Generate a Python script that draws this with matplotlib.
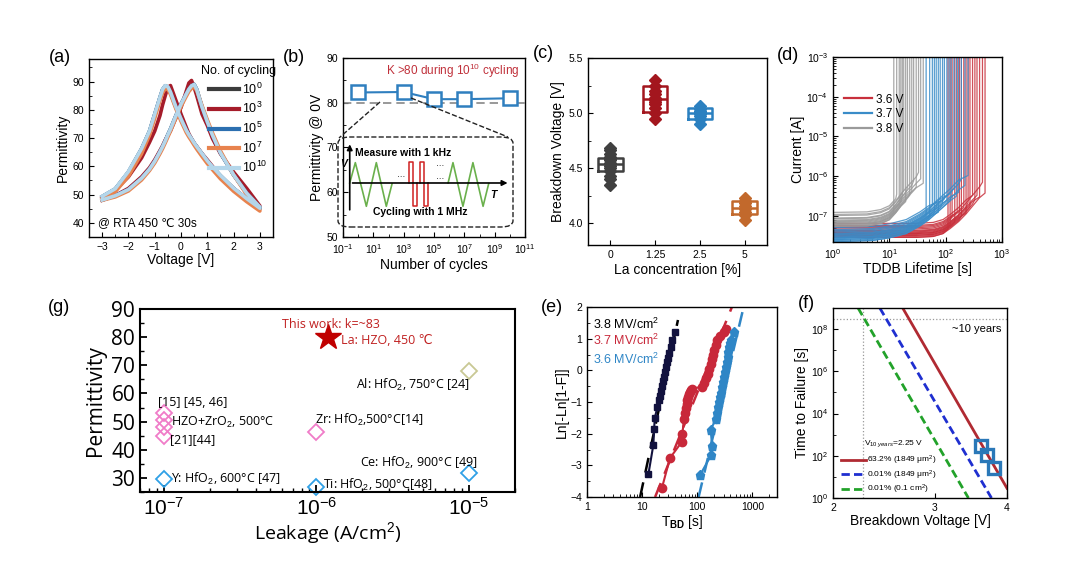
import numpy as np
import matplotlib
matplotlib.use("Agg")
import matplotlib.pyplot as plt
from matplotlib.patches import FancyBboxPatch
from matplotlib.lines import Line2D
from matplotlib.ticker import FixedLocator, FuncFormatter, MultipleLocator, NullLocator, NullFormatter

plt.rcParams["font.family"] = ["Liberation Sans", "DejaVu Sans"]
plt.rcParams["mathtext.fontset"] = "custom"
plt.rcParams["mathtext.rm"] = "Liberation Sans"
plt.rcParams["mathtext.it"] = "Liberation Sans:italic"
plt.rcParams["mathtext.bf"] = "Liberation Sans:bold"
plt.rcParams["xtick.direction"] = "in"
plt.rcParams["ytick.direction"] = "in"
plt.rcParams["xtick.labelsize"] = 7.5
plt.rcParams["ytick.labelsize"] = 7.5
plt.rcParams["axes.linewidth"] = 1.0

# ---------------- (a) C-V butterfly curves ----------------
V_GRID = [-3, -2.5, -2, -1.5, -1.2, -1, -0.8, -0.7, -0.6, -0.5, -0.4, -0.2, 0,
          0.2, 0.3, 0.4, 0.5, 0.6, 0.8, 1, 1.2, 1.5, 2, 2.5, 3]
CYC_LABELS = ["$10^0$", "$10^3$", "$10^5$", "$10^7$", "$10^{10}$"]
CYC_COLORS = ["#3c3c3c", "#a51c2a", "#2c6fb0", "#e8834e", "#b4d6ea"]
# forward sweep (peak at +V) and reverse sweep (peak at -V)
K_FWD = [
    [48.2, 49.6, 51.8, 55.8, 59.0, 61.8, 65.2, 67.0, 69.0, 71.2, 73.2, 77.8, 82.0,
     85.6, 87.3, 88.5, 89.0, 87.2, 81.0, 75.8, 71.0, 64.8, 57.0, 50.5, 45.5],
    [48.0, 49.7, 52.2, 56.3, 59.5, 62.3, 65.6, 67.3, 69.3, 71.0, 72.6, 77.0, 80.8,
     86.6, 89.5, 90.4, 88.0, 85.0, 78.5, 74.5, 69.8, 64.5, 58.0, 52.2, 46.0],
    [48.1, 49.6, 51.8, 55.8, 59.0, 61.8, 65.2, 67.0, 69.0, 71.2, 73.2, 77.8, 82.0,
     85.6, 87.3, 88.5, 89.0, 87.2, 81.0, 75.8, 71.0, 64.8, 57.0, 50.5, 45.5],
    [48.0, 49.2, 51.3, 55.2, 58.5, 61.2, 64.5, 66.3, 68.3, 70.4, 72.5, 77.0, 81.2,
     84.8, 86.5, 87.6, 88.0, 86.8, 81.5, 76.5, 71.8, 65.5, 57.0, 50.0, 44.6],
    [48.1, 49.6, 51.8, 55.8, 59.0, 61.8, 65.2, 67.0, 69.0, 71.2, 73.2, 77.8, 82.0,
     85.6, 87.3, 88.5, 89.0, 87.2, 81.0, 75.8, 71.0, 64.8, 57.0, 50.5, 45.6],
]
K_REV = [
    [49.3, 52.0, 58.0, 66.2, 72.4, 78.4, 84.4, 87.2, 88.5, 88.1, 86.2, 81.1, 76.7,
     72.7, 71.1, 69.7, 68.2, 66.9, 64.4, 61.9, 59.7, 56.7, 52.2, 48.5, 45.1],
    [48.8, 51.6, 56.3, 63.0, 68.5, 72.5, 78.0, 81.8, 85.0, 88.0, 88.6, 83.5, 78.5,
     73.8, 71.5, 69.8, 68.2, 67.0, 64.5, 62.3, 60.0, 56.3, 52.2, 48.5, 46.0],
    [49.3, 52.0, 58.0, 66.2, 72.4, 78.4, 84.4, 87.2, 88.5, 88.1, 86.2, 81.1, 76.7,
     72.7, 71.1, 69.7, 68.2, 66.9, 64.4, 61.9, 59.7, 56.7, 52.2, 48.5, 45.1],
    [48.6, 51.0, 56.5, 64.5, 71.0, 77.0, 83.3, 86.0, 87.5, 87.2, 85.5, 80.5, 76.0,
     72.0, 70.4, 69.0, 67.5, 66.1, 63.5, 61.0, 58.8, 55.6, 51.2, 47.5, 44.2],
    [49.4, 52.1, 58.2, 66.3, 72.5, 78.5, 84.5, 87.3, 88.6, 88.2, 86.3, 81.2, 76.8,
     72.8, 71.2, 69.8, 68.3, 67.0, 64.5, 62.0, 59.8, 56.8, 52.3, 48.6, 45.2],
]

# ---------------- (b) permittivity vs cycles ----------------
CYC_N = [1, 1e3, 1e5, 1e7, 1e10]
CYC_K = [82.3, 82.4, 80.8, 80.8, 81.0]
# schematic waveform of the inset (inset box units)
WAVE1_U = [0.067, 0.099, 0.162, 0.219, 0.276, 0.309]
WAVE2_U = [0.629, 0.657, 0.714, 0.771, 0.829, 0.861]
WAVE_V = [0.489, 0.715, 0.230, 0.715, 0.230, 0.481]
PULSE1_U = [0.404, 0.404, 0.429, 0.429, 0.450, 0.450]
PULSE2_U = [0.467, 0.467, 0.491, 0.491, 0.512, 0.512]
PULSE_V = [0.489, 0.722, 0.722, 0.230, 0.230, 0.489]

# ---------------- (c) breakdown voltage vs La ----------------
LA_LABELS = ["0", "1.25", "2.5", "5"]
LA_COLORS = ["#404040", "#a3161e", "#2b80c0", "#c2692c"]
VBD_POINTS = [
    [4.35, 4.40, 4.43, 4.47, 4.50, 4.52, 4.54, 4.55, 4.57, 4.58, 4.60, 4.63, 4.66, 4.68],
    [4.95, 5.00, 5.05, 5.08, 5.10, 5.12, 5.14, 5.17, 5.20, 5.25, 5.30],
    [4.90, 4.95, 4.97, 4.99, 5.00, 5.01, 5.02, 5.04, 5.06],
    [4.03, 4.07, 4.10, 4.13, 4.15, 4.18, 4.20, 4.23],
]
VBD_Q1 = [4.47, 5.01, 4.95, 4.08]
VBD_MED = [4.54, 5.13, 5.00, 4.14]
VBD_Q3 = [4.59, 5.25, 5.05, 4.20]

# ---------------- (d) TDDB current traces ----------------
D_LABELS = ["3.6 V", "3.7 V", "3.8 V"]
D_COLORS = ["#c8303c", "#3a8cc8", "#9a9a9a"]
BD_36 = [110, 120, 130, 145, 160, 175, 190, 210, 230, 250, 270, 300, 330, 360, 400, 450, 500]
BD_37 = [45, 52, 58, 63, 68, 74, 80, 88, 95, 105, 115, 125, 140, 155, 170, 190, 220, 250]
BD_38 = [12, 13.5, 15, 16, 17, 18, 19.5, 21, 23, 25, 27, 30, 33, 36, 40]
LEAK_T_36 = [1, 30, 60, 90, 120, 170, 230, 300, 400, 500]
LEAK_I_36 = [3.6e-8, 3.6e-8, 3.8e-8, 4.5e-8, 6e-8, 9e-8, 1.4e-7, 2.2e-7, 3.6e-7, 5.5e-7]
LEAK_T_37 = [1, 5, 10, 20, 35, 50, 80, 120, 170, 250]
LEAK_I_37 = [2.8e-8, 3e-8, 3.5e-8, 4.5e-8, 7e-8, 1e-7, 1.8e-7, 3e-7, 5e-7, 8e-7]
LEAK_T_38 = [1, 4, 7, 10, 13, 16, 20, 25, 30, 40]
LEAK_I_38 = [6.8e-8, 7e-8, 8e-8, 1e-7, 1.5e-7, 2.2e-7, 3.2e-7, 4.5e-7, 6e-7, 9e-7]
LEAK_SPREAD = [0.8, 1.0, 1.3, 0.9, 1.6, 1.1, 0.85, 1.4, 1.0, 1.2, 0.95, 1.8, 0.9, 1.15, 1.05, 1.5, 0.8, 1.25]

# ---------------- (g) benchmark ----------------
HZO_LEAK = [1e-7, 1e-7, 1e-7, 1e-7, 1e-6]
HZO_K = [53.0, 50.5, 48.2, 44.8, 46.4]
DOPED_LEAK = [1e-7, 1e-6, 1e-5]
DOPED_K = [29.6, 26.8, 31.8]
AL_LEAK = [1e-5]
AL_K = [68.0]
THIS_LEAK = [1.2e-6]
THIS_K = [80.0]

# ---------------- (e) Weibull ----------------
E_LABELS = ["3.8 MV/cm$^2$", "3.7 MV/cm$^2$", "3.6 MV/cm$^2$"]
E_COLORS = ["#12123e", "#c8283a", "#2f86c6"]
T38 = [13, 16, 16.5, 17, 19, 20, 21, 22, 23, 24, 25, 26, 27, 28.5, 30, 31, 33, 35, 39]
W38 = [-3.28, -2.35, -1.85, -1.5, -1.15, -0.95, -0.8, -0.65, -0.5, -0.35, -0.2,
       -0.05, 0.1, 0.25, 0.4, 0.55, 0.75, 0.95, 1.2]
T37 = [23, 32, 52, 54, 57, 60, 62, 64, 66, 68, 70, 73, 76, 80, 120, 135, 145, 155,
       165, 175, 185, 195, 205, 215, 230, 260, 300, 330]
W37 = [-3.7, -2.77, -2.27, -2.0, -1.55, -1.35, -1.2, -1.05, -0.95, -0.85, -0.75,
       -0.68, -0.62, -0.58, -0.52, -0.4, -0.25, -0.1, 0.05, 0.2, 0.35, 0.5, 0.65,
       0.8, 0.95, 1.1, 1.2, 1.3]
T36 = [113, 180, 186, 175, 219, 230, 241, 252, 262, 272, 283, 293, 304, 316, 329,
       342, 355, 368, 382, 395, 409, 467]
W36 = [-3.3, -2.67, -2.38, -1.88, -1.53, -1.35, -1.16, -1.0, -0.85, -0.7, -0.53,
       -0.37, -0.21, -0.05, 0.1, 0.26, 0.42, 0.58, 0.74, 0.85, 0.95, 1.22]
FIT_T = [[9.2, 44.7], [17.2, 426], [106, 686]]
FIT_W = [[-4.0, 1.59], [-4.0, 2.0], [-4.0, 1.96]]

# ---------------- (f) lifetime extrapolation ----------------
F_LABELS = ["63.2% (1849 μm$^2$)", "0.01% (1849 μm$^2$)", "0.01% (0.1 cm$^2$)"]
F_COLORS = ["#b02a32", "#1f2fd0", "#22a22a"]
F_V = [[2.64, 4.0], [2.41, 3.76], [2.21, 3.43]]
F_T = [[1e9, 2.9], [1e9, 1.0], [1e9, 1.0]]
F_V_MEAS = [3.6, 3.7, 3.8]
F_T_MEAS = [290, 110, 26]
TEN_YEARS = 3.15e8
V_10Y = 2.25

fig = plt.figure(figsize=(10.8, 5.74), dpi=100)


def px_axes(x0, y0, x1, y1):
    return fig.add_axes([x0 / 1080, 1 - y1 / 574, (x1 - x0) / 1080, (y1 - y0) / 574])


def panel_label(x, y, s):
    fig.text(x / 1080, 1 - y / 574, s, fontsize=13, ha="left", va="center")


# (a)
ax = px_axes(89, 59, 273, 237)
for i in range(5):
    xs = V_GRID + V_GRID[::-1]
    ys = K_FWD[i] + K_REV[i][::-1]
    ax.plot(xs, ys, color=CYC_COLORS[i], lw=2.6, label=CYC_LABELS[i], solid_joinstyle="round")
ax.set_xlim(-3.5, 3.5)
ax.set_ylim(35, 98)
ax.set_xticks(range(-3, 4))
ax.xaxis.set_minor_locator(MultipleLocator(0.5))
ax.set_yticks(range(40, 91, 10))
ax.yaxis.set_minor_locator(MultipleLocator(5))
ax.set_xlabel("Voltage [V]", fontsize=10, labelpad=1)
ax.set_ylabel("Permittivity", fontsize=10, labelpad=2)
leg = ax.legend(loc="upper right", bbox_to_anchor=(1.05, 1.0), frameon=False, fontsize=9,
                title="No. of cycling", title_fontsize=9, handlelength=2.4,
                handletextpad=0.25, labelspacing=0.35, borderaxespad=0.1)
for h in leg.legend_handles:
    h.set_linewidth(3)
ax.text(0.05, 0.06, "@ RTA 450 ℃ 30s", transform=ax.transAxes, fontsize=8.5)
panel_label(49, 57, "(a)")

# (b)
ax = px_axes(343, 58, 525, 237)
ax.axhline(80, color="#888888", ls="--", lw=1.2, dashes=(5, 3))
ax.plot(CYC_N, CYC_K, color="#2f7fbf", lw=1.5, marker="s", ms=9.5, mfc="white",
        mec="#2f7fbf", mew=1.8)
ax.set_xscale("log")
ax.set_xlim(1e-1, 1e11)
ax.set_ylim(50, 90)
ax.xaxis.set_major_locator(FixedLocator([10.0 ** k for k in range(-1, 12, 2)]))
ax.xaxis.set_minor_locator(FixedLocator([10.0 ** k for k in range(0, 11, 2)]))
ax.xaxis.set_minor_formatter(NullFormatter())
ax.set_yticks(range(50, 91, 10))
ax.yaxis.set_minor_locator(MultipleLocator(5))
ax.set_xlabel("Number of cycles", fontsize=10, labelpad=2)
ax.set_ylabel("Permittivity @ 0V", fontsize=10, labelpad=2)
ax.text(0.97, 0.93, "K >80 during 10$^{10}$ cycling", transform=ax.transAxes,
        color="#c0303a", fontsize=8.5, ha="right", va="center")
panel_label(283, 57, "(b)")

ins = px_axes(338, 137, 513, 227)
ins.set_xlim(0, 1)
ins.set_ylim(0, 1)
ins.axis("off")
ins.add_patch(FancyBboxPatch((0, 0), 1, 1, boxstyle="round,pad=0,rounding_size=0.07",
                             fill=False, ls="--", lw=1.0, ec="#222222", clip_on=False))
ins.annotate("", xy=(0.067, 0.95), xytext=(0.067, 0.16),
             arrowprops=dict(arrowstyle="-|>", lw=1.2, color="black", mutation_scale=8))
ins.annotate("", xy=(0.985, 0.489), xytext=(0.067, 0.489),
             arrowprops=dict(arrowstyle="-|>", lw=1.2, color="black", mutation_scale=8))
ins.plot(WAVE1_U, WAVE_V, color="#6ab04c", lw=1.2)
ins.plot(WAVE2_U, WAVE_V, color="#6ab04c", lw=1.2)
ins.plot(PULSE1_U, PULSE_V, color="#d02020", lw=1.1)
ins.plot(PULSE2_U, PULSE_V, color="#d02020", lw=1.1)
ins.text(0.095, 0.82, "Measure with 1 kHz", fontsize=7.5, fontweight="bold", va="center")
ins.text(0.2, 0.17, "Cycling with 1 MHz", fontsize=7.5, fontweight="bold", va="center")
ins.text(0.03, 0.70, "V", fontsize=7.5, fontweight="bold", style="italic", ha="center", va="center")
ins.text(0.89, 0.35, "T", fontsize=7.5, fontweight="bold", style="italic", ha="center", va="center")
for (u, v) in [(0.36, 0.55), (0.585, 0.53), (0.585, 0.67)]:
    ins.text(u, v, "···", fontsize=6, ha="center", va="center")
fig.add_artist(Line2D([380 / 1080, 339 / 1080], [1 - 102 / 574, 1 - 138 / 574],
                      color="#222222", ls="--", lw=1.0))
fig.add_artist(Line2D([411 / 1080, 508 / 1080], [1 - 98 / 574, 1 - 137 / 574],
                      color="#222222", ls="--", lw=1.0))

# (c)
ax = px_axes(588, 58, 767, 245)
for i in range(4):
    st = [dict(med=VBD_MED[i], q1=VBD_Q1[i], q3=VBD_Q3[i],
               whislo=VBD_Q1[i], whishi=VBD_Q3[i], fliers=[])]
    ax.bxp(st, positions=[i], widths=0.55, showcaps=False, showfliers=False,
           boxprops=dict(color=LA_COLORS[i], lw=1.8),
           medianprops=dict(color=LA_COLORS[i], lw=1.8),
           whiskerprops=dict(lw=0))
    ax.plot([i] * len(VBD_POINTS[i]), VBD_POINTS[i], "D", ms=6, color=LA_COLORS[i], zorder=3)
ax.set_xlim(-0.5, 3.5)
ax.set_ylim(3.8, 5.5)
ax.set_xticks(range(4))
ax.set_xticklabels(LA_LABELS)
ax.set_yticks([4.0, 4.5, 5.0, 5.5])
ax.yaxis.set_major_formatter(FuncFormatter(lambda v, p: f"{v:.1f}"))
ax.yaxis.set_minor_locator(MultipleLocator(0.25))
ax.set_xlabel("La concentration [%]", fontsize=10, labelpad=2)
ax.set_ylabel("Breakdown Voltage [V]", fontsize=10, labelpad=3)
panel_label(533, 53, "(c)")

# (d)
ax = px_axes(833, 57, 1002, 242)
groups = [(BD_36, LEAK_T_36, LEAK_I_36), (BD_37, LEAK_T_37, LEAK_I_37), (BD_38, LEAK_T_38, LEAK_I_38)]
for g, (bds, kt, ki) in enumerate(groups):
    for j, tb in enumerate(bds):
        m = LEAK_SPREAD[(j + 5 * g) % len(LEAK_SPREAD)]
        xs = [t for t in kt if t < tb]
        ys = [c * m for t, c in zip(kt, ki) if t < tb]
        xs += [tb, tb]
        ys += [ys[-1] * 1.3, 1e-3]
        ax.plot(xs, ys, color=D_COLORS[g], lw=0.9, alpha=0.85)
ax.set_xscale("log")
ax.set_yscale("log")
ax.set_xlim(1, 1e3)
ax.set_ylim(2.2e-8, 1e-3)
ax.legend(handles=[Line2D([], [], color=c, lw=1.6) for c in D_COLORS], labels=D_LABELS,
          loc="upper left", bbox_to_anchor=(0.0, 0.86), frameon=False, fontsize=8.5,
          handlelength=2.4, handletextpad=0.3, labelspacing=0.25)
ax.set_xlabel("TDDB Lifetime [s]", fontsize=10, labelpad=1)
ax.set_ylabel("Current [A]", fontsize=10, labelpad=1)
panel_label(777, 55, "(d)")

# (g)
gfont = ["Open Sans", "DejaVu Sans"]
ax = px_axes(140, 309, 515, 492)
for s in ax.spines.values():
    s.set_linewidth(1.5)
ax.plot(HZO_LEAK, HZO_K, "D", ms=8, mfc="none", mec="#f07cc8", mew=1.3, ls="none", clip_on=False)
ax.plot(DOPED_LEAK, DOPED_K, "D", ms=8, mfc="none", mec="#2fa0e6", mew=1.3, ls="none", clip_on=False)
ax.plot(AL_LEAK, AL_K, "D", ms=8, mfc="none", mec="#c9c894", mew=1.3, ls="none", clip_on=False)
ax.plot(THIS_LEAK, THIS_K, "*", ms=19, color="#c00000", ls="none")
ax.set_xscale("log")
ax.set_xlim(7e-8, 2e-5)
ax.set_ylim(25, 90)
ax.set_yticks(range(30, 91, 10))
ax.yaxis.set_minor_locator(MultipleLocator(5))
ax.tick_params(labelsize=15, width=1.3, length=5)
ax.tick_params(which="minor", width=1.0, length=3)
for lab in ax.get_yticklabels():
    lab.set_family(gfont)
ax.set_xlabel("Leakage (A/cm$^2$)", fontsize=14, family=gfont, labelpad=1)
ax.set_ylabel("Permittivity", fontsize=15, family=gfont, labelpad=4)
tk = dict(fontsize=9, family=gfont, va="center")
ax.text(1.25e-6, 84.6, "This work: k=~83", color="#c02020", ha="center", **tk)
ax.text(1.45e-6, 78.9, "La: HZO, 450 ℃", color="#c02020", ha="left", **tk)
ax.text(1.02e-5, 63.0, "Al: HfO$_2$, 750°C [24]", ha="right", **tk)
ax.text(0.98e-6, 50.6, "Zr: HfO$_2$,500°C[14]", ha="left", **tk)
ax.text(1.15e-5, 35.4, "Ce: HfO$_2$, 900°C [49]", ha="right", **tk)
ax.text(1.1e-6, 27.5, "Ti: HfO$_2$, 500°C[48]", ha="left", **tk)
ax.text(1.12e-7, 29.8, "Y: HfO$_2$, 600°C [47]", ha="left", **tk)
ax.text(0.92e-7, 56.8, "[15] [45, 46]", ha="left", **tk)
ax.text(1.12e-7, 49.6, "HZO+ZrO$_2$, 500°C", ha="left", **tk)
ax.text(1.1e-7, 43.8, "[21][44]", ha="left", **tk)
panel_label(48, 308, "(g)")

# (e)
ax = px_axes(587, 307, 777, 497)
for ts, ws, c, mk, ms in [(T38, W38, E_COLORS[0], "s", 5), (T37, W37, E_COLORS[1], "o", 6),
                          (T36, W36, E_COLORS[2], "p", 6.5)]:
    ax.plot(ts, ws, color=c, marker=mk, ms=ms, lw=1.5)
for k in range(3):
    ax.plot(FIT_T[k], FIT_W[k], color=["black", E_COLORS[1], E_COLORS[2]][k],
            ls="--", dashes=(6, 4), lw=1.8, zorder=1)
ax.set_xscale("log")
ax.set_xlim(1, 2800)
ax.set_ylim(-4, 2)
ax.xaxis.set_major_formatter(FuncFormatter(lambda v, p: f"{v:g}"))
ax.xaxis.set_minor_formatter(NullFormatter())
ax.set_yticks(range(-4, 3))
ax.yaxis.set_major_formatter(FuncFormatter(lambda v, p: f"{v:g}".replace("-", "−") if v < 0 else f"{v:g}"))
ax.yaxis.set_minor_locator(MultipleLocator(0.5))
ax.set_xlabel("T$_{\\mathbf{BD}}$ [s]", fontsize=10, labelpad=1)
ax.set_ylabel("Ln[-Ln[1-F]]", fontsize=10, labelpad=1)
for k, yy in enumerate([0.91, 0.826, 0.726]):
    ax.text(0.03, yy, E_LABELS[k], color=["black", E_COLORS[1], E_COLORS[2]][k],
            fontsize=9, transform=ax.transAxes, va="center")
panel_label(541, 307, "(e)")

# (f)
ax = px_axes(833, 308, 1007, 498)
ax.axhline(TEN_YEARS, color="#999999", ls=":", lw=0.9)
ax.axvline(V_10Y, color="#999999", ls=":", lw=0.9)
styles = ["-", (0, (3, 1.5)), (0, (3, 1.5))]
for k in range(3):
    ax.plot(F_V[k], F_T[k], color=F_COLORS[k], ls=styles[k], lw=2.0, label=F_LABELS[k])
ax.plot(F_V_MEAS, F_T_MEAS, "s", ms=9, mfc="none", mec="#2a78b8", mew=2.4, ls="none")
ax.set_xscale("log")
ax.set_yscale("log")
ax.set_xlim(2, 4)
ax.set_ylim(1, 1e9)
ax.xaxis.set_major_locator(FixedLocator([2, 3, 4]))
ax.xaxis.set_major_formatter(FuncFormatter(lambda v, p: f"{v:g}"))
ax.xaxis.set_minor_locator(NullLocator())
ax.yaxis.set_major_locator(FixedLocator([10.0 ** k for k in range(0, 9, 2)]))
ax.yaxis.set_minor_locator(FixedLocator([10.0 ** k for k in range(1, 9, 2)]))
ax.yaxis.set_minor_formatter(NullFormatter())
ax.text(0.97, 1e8, "~10 years", ha="right", va="center", fontsize=8,
        transform=ax.get_yaxis_transform())
ax.text(2.265, 3.6e2, "V$_{10\\ years}$=2.25 V", fontsize=6, va="center")
ax.legend(loc="lower left", bbox_to_anchor=(0.0, -0.03), frameon=False, fontsize=6,
          handlelength=3.0, handletextpad=0.2, labelspacing=0.15)
ax.set_xlabel("Breakdown Voltage [V]", fontsize=10, labelpad=1)
ax.set_ylabel("Time to Failure [s]", fontsize=10, labelpad=1)
panel_label(798, 303, "(f)")

fig.savefig("out.png", dpi=100)
